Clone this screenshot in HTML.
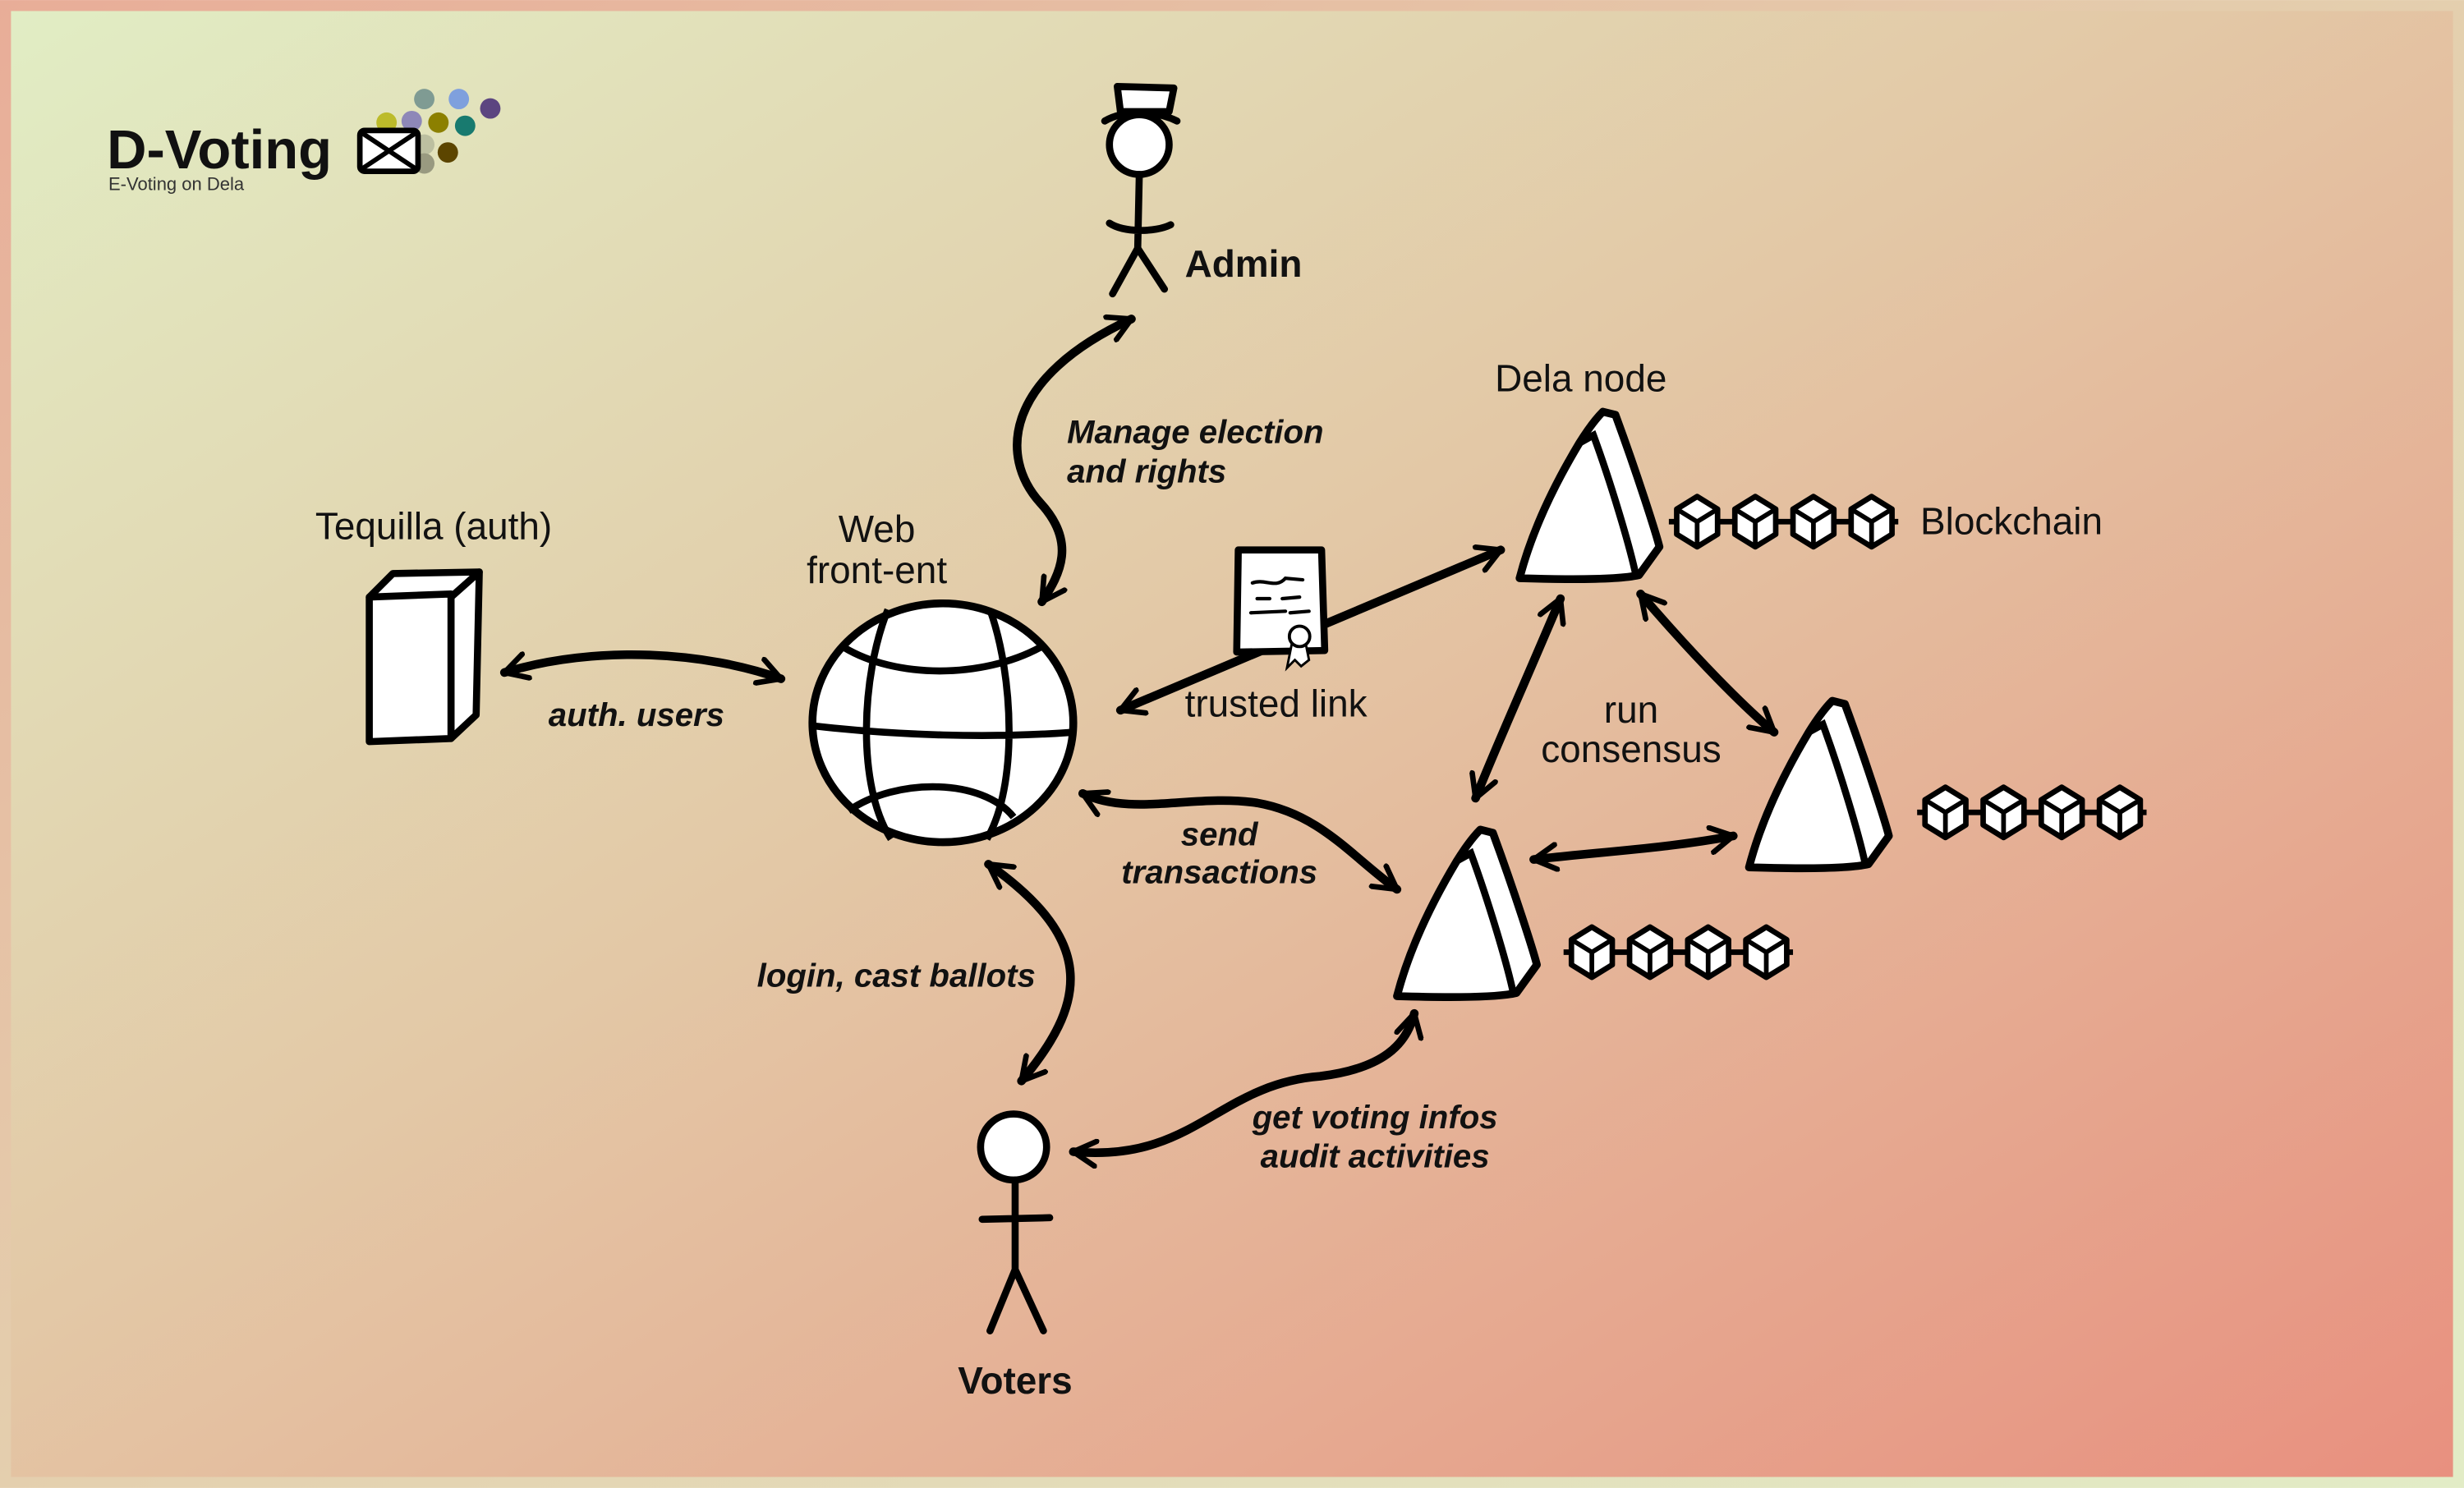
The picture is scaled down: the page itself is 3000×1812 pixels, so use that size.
<!DOCTYPE html>
<html><head><meta charset="utf-8"><style>
html,body{margin:0;padding:0;width:3000px;height:1812px;overflow:hidden}
svg{display:block}
.t{font-family:"Liberation Sans",sans-serif;fill:#111}
.h{font-size:24px}
.i{font-size:21px;font-style:italic;font-weight:bold}
</style></head><body>
<svg width="3000" height="1812" viewBox="0 0 1568 947" xmlns="http://www.w3.org/2000/svg">
<defs>
<linearGradient id="fr" x1="0" y1="0" x2="1" y2="1"><stop offset="0" stop-color="#e8ad98"/><stop offset="0.5" stop-color="#e4cfae"/><stop offset="1" stop-color="#e2ecc6"/></linearGradient>
<linearGradient id="bg" x1="0" y1="0" x2="1" y2="1"><stop offset="0" stop-color="#e1edc4"/><stop offset="0.45" stop-color="#e3c8a6"/><stop offset="1" stop-color="#e8907f"/></linearGradient>
<marker id="a" viewBox="0 0 12 12" refX="10" refY="6" markerWidth="19" markerHeight="19" markerUnits="userSpaceOnUse" orient="auto-start-reverse"><path d="M1,1 L10,6 L1,11" fill="none" stroke="#000" stroke-width="2.2" stroke-linecap="round" stroke-linejoin="round"/></marker>
<g id="cube"><path d="M0,-16 L13,-8 L13,8 L0,16 L-13,8 L-13,-8 Z" fill="#fff" stroke="#000" stroke-width="3.5" stroke-linejoin="round"/><path d="M-13,-8 L0,0 L13,-8 M0,0 L0,16" fill="none" stroke="#000" stroke-width="3"/></g>
<g id="chain"><line x1="-18" y1="0" x2="128" y2="0" stroke="#000" stroke-width="3.5"/><use href="#cube" x="0"/><use href="#cube" x="37"/><use href="#cube" x="74"/><use href="#cube" x="111"/></g>
<g id="node"><path d="M0,0 L8,2 C22,40 34,78 36,86 L23,104 C10,107 -20,107 -53,106 C-45,75 -30,45 -15,20 C-10,12 -5,5 0,0 Z" fill="#fff" stroke="#000" stroke-width="5" stroke-linejoin="round"/><path d="M-15,20 L-6,15 C5,45 17,85 21,104" fill="none" stroke="#000" stroke-width="4.5"/></g>
</defs>
<rect width="1568" height="947" fill="url(#fr)"/>
<rect x="7" y="7" width="1554" height="933" fill="url(#bg)"/>

<!-- logo -->
<circle cx="270" cy="63" r="6.5" fill="#7f9b93"/><circle cx="292" cy="63" r="6.5" fill="#7fa0dd"/><circle cx="312" cy="69" r="6.5" fill="#5c4580"/>
<circle cx="246" cy="78" r="6.5" fill="#bcbb2a"/><circle cx="262" cy="77" r="6.5" fill="#8e88b8"/><circle cx="279" cy="78" r="6.5" fill="#8c8000"/><circle cx="296" cy="80" r="6.5" fill="#187a6f"/><circle cx="285" cy="97" r="6.5" fill="#5c4500"/>
<circle cx="270" cy="92" r="6.5" fill="#bcbfa0"/><circle cx="270" cy="104" r="6.5" fill="#999a80"/>
<rect x="229" y="83" width="37" height="26" rx="3" fill="#fff" stroke="#000" stroke-width="3.5"/>
<path d="M231,85 L264,107 M264,85 L231,107" stroke="#000" stroke-width="3"/>
<text x="68" y="107" class="t" style="font-size:35px;font-weight:bold">D-Voting</text>
<text x="69" y="121" class="t" style="font-size:11.5px;fill:#333">E-Voting on Dela</text>

<!-- Admin -->
<path d="M711,55 L747,56 L744,71 L713,71 Z" fill="#fff" stroke="#000" stroke-width="4.5" stroke-linejoin="round"/>
<path d="M703,77 C715,70 735,70 749,77" fill="none" stroke="#000" stroke-width="4.5" stroke-linecap="round"/>
<circle cx="725" cy="92" r="19" fill="#fff" stroke="#000" stroke-width="4.5"/>
<path d="M725,111 L724,158 M706,142 C715,148 735,148 745,143 M724,158 L708,187 M724,158 L741,184" fill="none" stroke="#000" stroke-width="4.5" stroke-linecap="round"/>
<text x="754" y="176" class="t h" style="font-weight:bold">Admin</text>

<!-- Voter -->
<circle cx="645" cy="730" r="21" fill="#fff" stroke="#000" stroke-width="4.5"/>
<path d="M646,751 L646,808 M625,776 L668,775 M646,808 L630,847 M646,808 L664,847" fill="none" stroke="#000" stroke-width="4.5" stroke-linecap="round"/>
<text x="646" y="887" class="t h" text-anchor="middle" style="font-weight:bold">Voters</text>

<!-- Tequilla -->
<path d="M235,380 L250,365 L305,364 L287,380 Z" fill="#fff" stroke="#000" stroke-width="4.5" stroke-linejoin="round"/>
<path d="M287,380 L305,364 L303,455 L287,470 Z" fill="#fff" stroke="#000" stroke-width="4.5" stroke-linejoin="round"/>
<path d="M235,380 L287,378 L287,470 L235,472 Z" fill="#fff" stroke="#000" stroke-width="4.5" stroke-linejoin="round"/>
<text x="276" y="343" class="t h" text-anchor="middle">Tequilla (auth)</text>

<!-- Globe -->
<ellipse cx="600" cy="460" rx="83" ry="76" fill="#fff" stroke="#000" stroke-width="5"/>
<path d="M565,388 C548,430 545,500 567,534 M630,388 C645,430 648,500 628,534 M537,412 C570,432 625,432 662,412 M518,462 C570,468 630,470 683,466 M540,516 C570,495 625,495 645,520" fill="none" stroke="#000" stroke-width="4.5"/>
<text x="558" y="345" class="t h" text-anchor="middle">Web</text>
<text x="558" y="371" class="t h" text-anchor="middle">front-ent</text>

<!-- nodes -->
<use href="#node" x="1020" y="262"/>
<use href="#node" x="1166" y="446"/>
<use href="#node" x="942" y="528"/>
<use href="#chain" x="1080" y="332"/>
<use href="#chain" x="1238" y="517"/>
<use href="#chain" x="1013" y="606"/>
<text x="1006" y="249" class="t h" text-anchor="middle">Dela node</text>
<text x="1222" y="340" class="t h">Blockchain</text>

<!-- arrows -->
<g fill="none" stroke="#000" stroke-width="5.5" stroke-linecap="round">
<path d="M321,428 C380,410 450,415 497,432" marker-start="url(#a)" marker-end="url(#a)"/>
<path d="M720,203 C640,240 635,290 662,320 C685,345 675,365 663,383" marker-start="url(#a)" marker-end="url(#a)"/>
<path d="M713,452 L955,350" marker-start="url(#a)" marker-end="url(#a)"/>
<path d="M689,505 C720,520 760,505 800,511 C840,518 860,545 889,566" marker-start="url(#a)" marker-end="url(#a)"/>
<path d="M629,550 C700,600 690,640 650,688" marker-start="url(#a)" marker-end="url(#a)"/>
<path d="M683,733 C760,740 775,690 840,685 C880,680 895,665 900,645" marker-start="url(#a)" marker-end="url(#a)"/>
<path d="M993,381 C968,440 950,480 939,508" marker-start="url(#a)" marker-end="url(#a)"/>
<path d="M1044,378 C1080,420 1110,450 1129,466" marker-start="url(#a)" marker-end="url(#a)"/>
<path d="M976,547 C1020,542 1060,540 1103,532" marker-start="url(#a)" marker-end="url(#a)"/>
</g>

<!-- certificate -->
<path d="M788,350 L841,350 L843,414 L787,415 Z" fill="#fff" stroke="#000" stroke-width="4.5" stroke-linejoin="round"/>
<path d="M797,371 C805,368 812,375 818,368 L829,369 M800,381 L808,381 M816,381 L827,380 M796,390 L818,389 M821,390 L833,389" fill="none" stroke="#000" stroke-width="2.2" stroke-linecap="round"/>
<path d="M822,410 L819,425 L824,420 L828,424 L833,420 L831,410 Z" fill="#fff" stroke="#000" stroke-width="1.5"/>
<circle cx="827" cy="405" r="6.5" fill="#fff" stroke="#000" stroke-width="2"/>

<!-- labels -->
<text x="405" y="462" class="t i" text-anchor="middle">auth. users</text>
<text x="679" y="282" class="t i">Manage election</text>
<text x="679" y="307" class="t i">and rights</text>
<text x="754" y="456" class="t h">trusted link</text>
<text x="776" y="538" class="t i" text-anchor="middle">send</text>
<text x="776" y="562" class="t i" text-anchor="middle">transactions</text>
<text x="659" y="628" class="t i" text-anchor="end">login, cast ballots</text>
<text x="875" y="718" class="t i" text-anchor="middle">get voting infos</text>
<text x="875" y="743" class="t i" text-anchor="middle">audit activities</text>
<text x="1038" y="460" class="t h" text-anchor="middle">run</text>
<text x="1038" y="485" class="t h" text-anchor="middle">consensus</text>
</svg>
</body></html>
